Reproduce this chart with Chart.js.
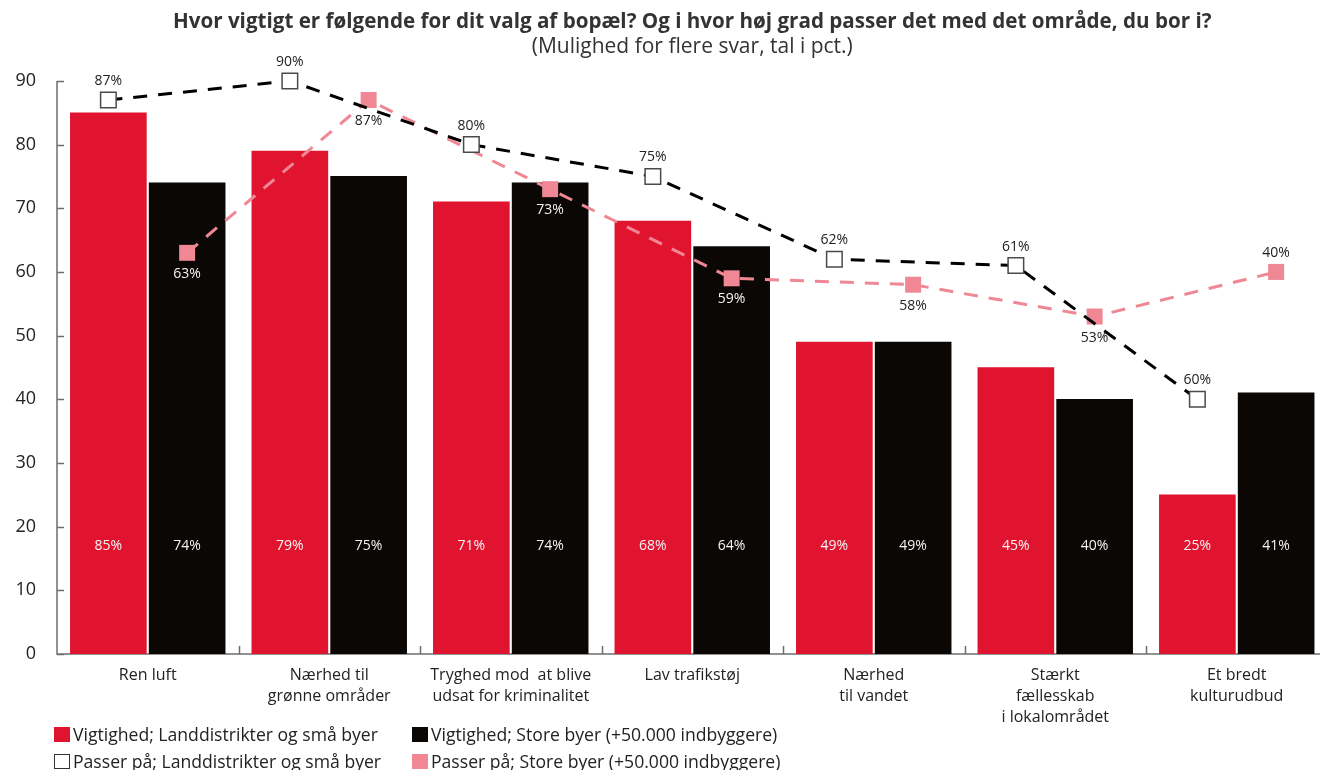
<!DOCTYPE html>
<html lang="da">
<head>
<meta charset="utf-8">
<title>Vigtighed og passer på</title>
<script src="https://cdn.jsdelivr.net/npm/chart.js@4.4.1/dist/chart.umd.min.js"></script>
<style>
    html, body { margin: 0; padding: 0; background: #fff; overflow: hidden; }
    .wrap { position: relative; width: 1320px; height: 770px; overflow: hidden; }
    #chart { position: absolute; left: 0; top: 0; }
    .legend-item {
        position: absolute; height: 20px; display: flex; align-items: center;
        font-family: "Open Sans", sans-serif; font-size: 17.6px; color: #222; white-space: nowrap;
    }
    .legend-item .box { width: 16px; height: 15px; box-sizing: border-box; margin-right: 3px; }
</style>
</head>
<body>
<div class="wrap">
    <canvas id="chart" width="1340" height="770"></canvas>
    <div id="legend"></div>
</div>
<script>
const categories = [
    ['Ren luft'],
    ['Nærhed til', 'grønne områder'],
    ['Tryghed mod  at blive', 'udsat for kriminalitet'],
    ['Lav trafikstøj'],
    ['Nærhed', 'til vandet'],
    ['Stærkt', 'fællesskab', 'i lokalområdet'],
    ['Et bredt', 'kulturudbud']
];
const vigtighedLand = [85, 79, 71, 68, 49, 45, 25];
const vigtighedStore = [74, 75, 74, 64, 49, 40, 41];
const passerLand = [87, 90, 80, 75, 62, 61, 40];
const passerStore = [63, 87, 73, 59, 58, 53, 60];
const passerLandLabels = ['87%', '90%', '80%', '75%', '62%', '61%', '60%'];
const passerStoreLabels = ['63%', '87%', '73%', '59%', '58%', '53%', '40%'];
const yTicks = [0, 10, 20, 30, 40, 50, 60, 70, 80, 90];

const seriesNames = [
    'Vigtighed; Landdistrikter og små byer',
    'Vigtighed; Store byer (+50.000 indbyggere)',
    'Passer på; Landdistrikter og små byer',
    'Passer på; Store byer (+50.000 indbyggere)'
];

const RED = '#E11430';
const BLACK = '#0B0704';
const PINK = '#EF8794';
const TEXT = '#222';
const AXIS = '#6e6e6e';
const FONT = '"Open Sans", sans-serif';

// bars sit left/right of the category centre; the lines run through the bar centres
const barShift = 0.217;
const BAR_THICKNESS = 76;

const toPoints = (values, shift) => values.map((v, i) => ({ x: i + shift, y: v }));

const axesPlugin = {
    id: 'axesPlugin',
    beforeDatasetsDraw(chart) {
        const { ctx, chartArea, scales } = chart;
        const y = scales.y, x2 = scales.x2;
        ctx.save();
        ctx.strokeStyle = AXIS;
        ctx.lineWidth = 1.5;
        ctx.beginPath();
        ctx.moveTo(chartArea.left, y.getPixelForValue(yTicks[yTicks.length - 1]));
        ctx.lineTo(chartArea.left, chartArea.bottom);
        ctx.lineTo(chartArea.right, chartArea.bottom);
        yTicks.forEach(t => {
            const py = Math.round(y.getPixelForValue(t)) + 0.5;
            ctx.moveTo(chartArea.left, py);
            ctx.lineTo(chartArea.left + 7, py);
        });
        for (let i = 0; i < categories.length - 1; i++) {
            const px = Math.round(x2.getPixelForValue(i + 0.5)) + 0.5;
            ctx.moveTo(px, chartArea.bottom);
            ctx.lineTo(px, chartArea.bottom - 8);
        }
        ctx.stroke();
        ctx.restore();
    }
};

const labelsPlugin = {
    id: 'labelsPlugin',
    afterDatasetsDraw(chart) {
        const { ctx, scales } = chart;
        const y = scales.y;
        ctx.save();
        ctx.font = '14px ' + FONT;
        ctx.textAlign = 'center';
        ctx.textBaseline = 'middle';

        // value labels inside the bars
        const barY = y.getPixelForValue(17);
        [vigtighedLand, vigtighedStore].forEach((values, di) => {
            chart.getDatasetMeta(di).data.forEach((bar, i) => {
                ctx.fillStyle = '#f4f4f4';
                ctx.fillText(values[i] + '%', bar.x, barY);
            });
        });

        // line labels; white when they fall on a bar
        const lineLabel = (di, texts, barIndex, sides) => {
            const bars = chart.getDatasetMeta(barIndex).data;
            chart.getDatasetMeta(di).data.forEach((pt, i) => {
                const ly = sides[i] === 'above' ? pt.y - 19 : pt.y + 21;
                ctx.fillStyle = ly > bars[i].y ? '#f4f4f4' : TEXT;
                ctx.fillText(texts[i], pt.x, ly);
            });
        };
        lineLabel(2, passerLandLabels, 0, passerLand.map(() => 'above'));
        lineLabel(3, passerStoreLabels, 1, passerStore.map((v, i) => i === passerStore.length - 1 ? 'above' : 'below'));
        ctx.restore();
    }
};

new Chart(document.getElementById('chart'), {
    data: {
        labels: categories,
        datasets: [
            {
                type: 'bar', label: seriesNames[0], data: toPoints(vigtighedLand, -barShift),
                backgroundColor: RED, xAxisID: 'x2', order: 3, grouped: false,
                barThickness: BAR_THICKNESS
            },
            {
                type: 'bar', label: seriesNames[1], data: toPoints(vigtighedStore, barShift),
                backgroundColor: BLACK, xAxisID: 'x2', order: 3, grouped: false,
                barThickness: BAR_THICKNESS
            },
            {
                type: 'line', label: seriesNames[2], data: toPoints(passerLand, -barShift),
                xAxisID: 'x2', order: 0, clip: false,
                borderColor: '#000', borderWidth: 3, borderDash: [14, 11],
                pointStyle: 'rect', pointRadius: 11, pointHoverRadius: 11,
                pointBackgroundColor: '#fff', pointBorderColor: '#4a4a4a', pointBorderWidth: 1.5
            },
            {
                type: 'line', label: seriesNames[3], data: toPoints(passerStore, barShift),
                xAxisID: 'x2', order: 1, clip: false,
                borderColor: PINK, borderWidth: 3, borderDash: [14, 11],
                pointStyle: 'rect', pointRadius: 11.3, pointHoverRadius: 11.3,
                pointBackgroundColor: PINK, pointBorderColor: PINK, pointBorderWidth: 0
            }
        ]
    },
    options: {
        responsive: false,
        animation: false,
        layout: { padding: { left: 0, right: 9, top: 0, bottom: 0 } },
        plugins: {
            legend: { display: false },
            tooltip: { enabled: false },
            title: {
                display: true, fullSize: false,
                text: 'Hvor vigtigt er følgende for dit valg af bopæl? Og i hvor høj grad passer det med det område, du bor i?',
                color: '#333', font: { family: FONT, size: 20.6, weight: 'bold' },
                padding: { top: 10, bottom: 0 }
            },
            subtitle: {
                display: true, fullSize: false,
                text: '(Mulighed for flere svar, tal i pct.)',
                color: '#333', font: { family: FONT, size: 21 },
                padding: { top: 0, bottom: 21 }
            }
        },
        scales: {
            x: {
                type: 'category', offset: true,
                grid: { display: false, drawTicks: false },
                border: { display: false },
                ticks: {
                    color: TEXT, font: { family: FONT, size: 16, lineHeight: 1.31 },
                    padding: 11, maxRotation: 0, autoSkip: false
                },
                afterFit: s => { s.height = 116; }
            },
            x2: {
                type: 'linear', min: -0.5, max: categories.length - 0.5,
                offset: false, display: false
            },
            y: {
                min: 0, max: 90,
                afterBuildTicks: s => { s.ticks = yTicks.map(v => ({ value: v })); },
                grid: { display: false, drawTicks: false },
                border: { display: false },
                ticks: { color: TEXT, font: { family: FONT, size: 18 }, padding: 21 },
                afterFit: s => { s.width = 57; }
            }
        }
    },
    plugins: [axesPlugin, labelsPlugin]
});

// two-column legend under the axis
const legendSpec = [
    { name: seriesNames[0], left: 54, top: 724, style: 'background:' + RED },
    { name: seriesNames[1], left: 412, top: 724, style: 'background:' + BLACK },
    { name: seriesNames[2], left: 54, top: 751, style: 'background:#fff;border:1px solid #333' },
    { name: seriesNames[3], left: 412, top: 751, style: 'background:' + PINK }
];
const legendEl = document.getElementById('legend');
legendSpec.forEach(item => {
    const div = document.createElement('div');
    div.className = 'legend-item';
    div.style.left = item.left + 'px';
    div.style.top = item.top + 'px';
    div.innerHTML = '<span class="box" style="' + item.style + '"></span><span></span>';
    div.lastChild.textContent = item.name;
    legendEl.appendChild(div);
});
</script>
</body>
</html>
